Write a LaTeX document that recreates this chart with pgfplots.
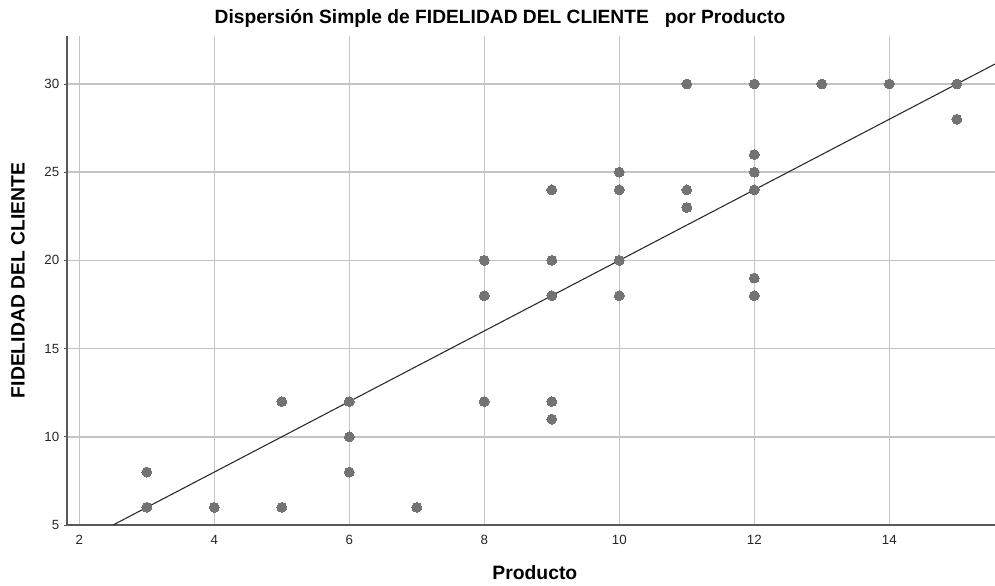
\documentclass[border=0pt]{standalone}
\usepackage{pgfplots}
\pgfplotsset{compat=1.18}
\usepackage{fontspec}
\setmainfont{Liberation Sans}
\definecolor{gridc}{RGB}{196,196,196}
\definecolor{axc}{RGB}{90,90,90}
\definecolor{markc}{RGB}{115,115,115}
\definecolor{linec}{RGB}{40,40,40}
\begin{document}
\begin{tikzpicture}
\useasboundingbox (-50pt,-45pt) rectangle (696.25pt,393.75pt);
\begin{axis}[
  at={(0,0)}, anchor=south west,
  scale only axis,
  width=696.25pt, height=366.75pt,
  xmin=1.813, xmax=15.566,
  ymin=5, ymax=32.72,
  xtick={2,4,...,14},
  ytick={5,10,...,30},
  axis x line*=bottom, axis y line*=left,
  axis line style={axc, line width=1.4pt},
  x axis line style={-}, y axis line style={-},
  grid=major,
  major grid style={gridc, line width=1.1pt},
  xtick style={draw=none},
  ytick style={axc, line width=0.7pt},
  tick align=outside,
  major tick length=2pt,
  /pgf/number format/assume math mode=true,
  tick label style={font=\fontsize{10}{12}\selectfont, text=black!85},
  xticklabel style={yshift=-2pt},
  yticklabel style={xshift=0pt},
  xlabel={\textbf{Producto}},
  ylabel={\textbf{FIDELIDAD DEL CLIENTE}},
  label style={font=\fontsize{14.5}{16}\selectfont},
  xlabel style={at={(axis description cs:0.5,0)}, anchor=center, yshift=-36pt, xshift=3pt},
  ylabel style={at={(axis description cs:-0.0524,0.5)}, anchor=center},
  clip=false,
]
\addplot[only marks, mark=*, mark size=3.7pt, mark options={fill=markc, draw=markc, line width=0pt}] coordinates {
(3,8) (3,6) (4,6) (5,12) (5,6) (6,12) (6,10) (6,8) (7,6)
(8,20) (8,18) (8,12)
(9,24) (9,20) (9,18) (9,12) (9,11)
(10,25) (10,24) (10,20) (10,18)
(11,30) (11,24) (11,23)
(12,30) (12,26) (12,25) (12,24) (12,19) (12,18)
(13,30) (14,30) (15,30) (15,28)
};
\addplot[linec, line width=0.8pt] coordinates {(2.5,5) (15.566,31.132)};
\end{axis}
\node[font=\bfseries\fontsize{14.4}{16}\selectfont, anchor=center] at (325pt,380pt) {Dispersión Simple de FIDELIDAD DEL CLIENTE\ \ \ por Producto};
\end{tikzpicture}
\end{document}
